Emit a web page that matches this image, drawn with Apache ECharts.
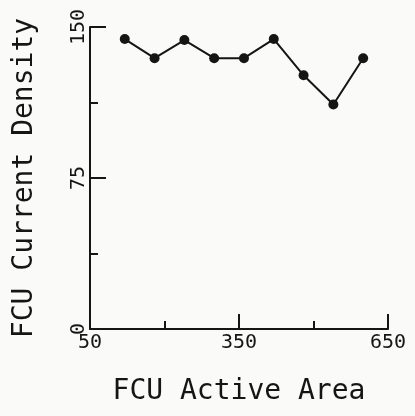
<!DOCTYPE html>
<html>
<head>
<meta charset="utf-8">
<script src="https://cdn.jsdelivr.net/npm/echarts@6/dist/echarts.min.js"></script>
<style>
html,body{margin:0;padding:0;background:#fafaf8;}
#chart{width:415px;height:416px;}
</style>
</head>
<body>
<div id="chart"></div>
<script>
var areaValues = [120, 180, 240, 300, 360, 420, 480, 540, 600];
var densityValues = [144, 134.5, 143.5, 134.5, 134.5, 144, 126, 111.5, 134.5];
var xMajorTicks = [50, 350, 650];
var xMinorTicks = [200, 500];
var xTitle = 'FCU Active Area';
var yTitle = 'FCU Current Density';

var ink = '#151515';
var font = 'DejaVu Sans Mono';

var chart = echarts.init(document.getElementById('chart'), null, {renderer: 'canvas'});
var points = areaValues.map(function (x, i) { return [x, densityValues[i]]; });

chart.setOption({
  backgroundColor: '#fafaf8',
  animation: false,
  grid: {left: 90, right: 27, top: 27, bottom: 87, containLabel: false},
  xAxis: [{
    type: 'value', min: 50, max: 650,
    axisLine: {show: true, lineStyle: {color: ink, width: 2}},
    axisTick: {show: true, inside: true, length: 15, customValues: xMajorTicks, lineStyle: {color: ink, width: 2}},
    axisLabel: {show: true, customValues: xMajorTicks, color: ink, fontFamily: font, fontSize: 20, margin: 4},
    splitLine: {show: false},
    name: xTitle, nameLocation: 'middle', nameGap: 49,
    nameTextStyle: {color: ink, fontFamily: font, fontSize: 28}
  }, {
    type: 'value', min: 50, max: 650, position: 'bottom',
    axisLine: {show: false},
    axisTick: {show: true, inside: true, length: 8, customValues: xMinorTicks, lineStyle: {color: ink, width: 2}},
    axisLabel: {show: false, customValues: xMinorTicks},
    splitLine: {show: false}
  }],
  yAxis: {
    type: 'value', min: 0, max: 150, interval: 75,
    axisLine: {show: true, lineStyle: {color: ink, width: 2}},
    axisTick: {show: true, inside: true, length: 16, lineStyle: {color: ink, width: 2}},
    minorTick: {show: true, splitNumber: 2, length: 8, lineStyle: {color: ink, width: 2}},
    axisLabel: {rotate: 90, color: ink, fontFamily: font, fontSize: 20, margin: 1},
    splitLine: {show: false},
    name: yTitle, nameLocation: 'middle', nameRotate: 90, nameGap: 51,
    nameTextStyle: {color: ink, fontFamily: font, fontSize: 28}
  },
  series: [{
    type: 'line',
    xAxisIndex: 0,
    data: points,
    symbol: 'circle',
    symbolSize: 10,
    lineStyle: {color: ink, width: 2},
    itemStyle: {color: ink}
  }]
});
</script>
</body>
</html>
